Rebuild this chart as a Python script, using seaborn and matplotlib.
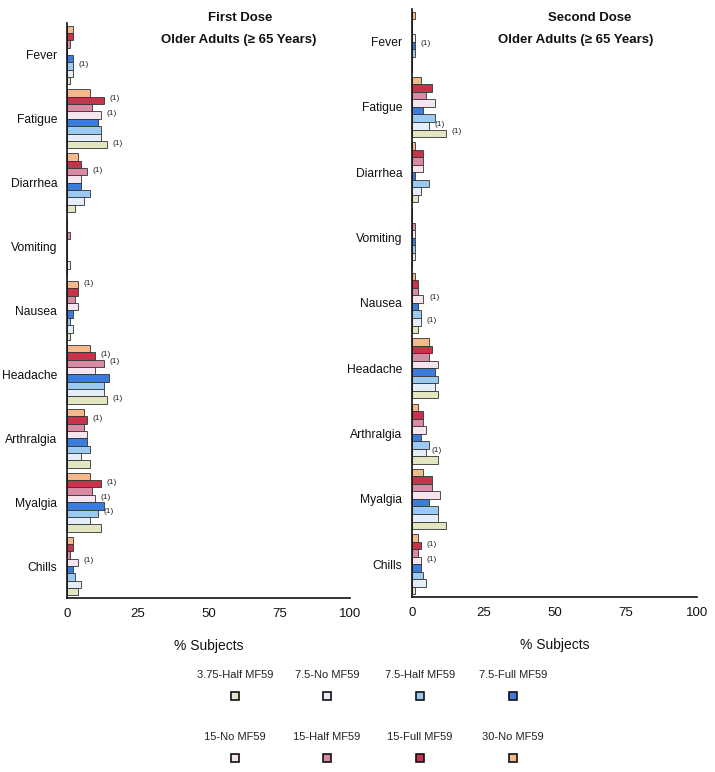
import matplotlib
matplotlib.use('Agg')
import matplotlib.pyplot as plt
from matplotlib.patches import Rectangle
import pandas as pd
import seaborn as sns

sns.set_theme(style='white')
plt.rcParams['font.family'] = ['Liberation Sans', 'DejaVu Sans']

# 数据
symptoms = ['Fever', 'Fatigue', 'Diarrhea', 'Vomiting', 'Nausea',
            'Headache', 'Arthralgia', 'Myalgia', 'Chills']
groups = ['30-No MF59', '15-Full MF59', '15-Half MF59', '15-No MF59',
          '7.5-Full MF59', '7.5-Half MF59', '7.5-No MF59', '3.75-Half MF59']
colors = ['#f6b98c', '#c8324a', '#d98aa6', '#f6e4ef',
          '#3b7bd9', '#9cc9ef', '#e4eef8', '#e3e6c0']

# 第一剂 (% subjects)
d1_30_no = [2, 8, 4, 0, 4, 8, 6, 8, 2]
d1_15_full = [2, 13, 5, 0, 4, 10, 7, 12, 2]
d1_15_half = [1, 9, 7, 1, 3, 13, 6, 9, 1]
d1_15_no = [0, 12, 5, 0, 4, 10, 7, 10, 4]
d1_75_full = [2, 11, 5, 0, 2, 15, 7, 13, 2]
d1_75_half = [2, 12, 8, 0, 1, 13, 8, 11, 3]
d1_75_no = [2, 12, 6, 1, 2, 13, 5, 8, 5]
d1_375_half = [1, 14, 3, 0, 1, 14, 8, 12, 4]

# 第二剂 (% subjects)
d2_30_no = [1, 3, 1, 0, 1, 6, 2, 4, 2]
d2_15_full = [0, 7, 4, 0, 2, 7, 4, 7, 3]
d2_15_half = [0, 5, 4, 1, 2, 6, 4, 7, 2]
d2_15_no = [1, 8, 4, 1, 4, 9, 5, 10, 3]
d2_75_full = [1, 4, 1, 1, 2, 8, 3, 6, 3]
d2_75_half = [1, 8, 6, 1, 3, 9, 6, 9, 4]
d2_75_no = [0, 6, 3, 1, 3, 8, 5, 9, 5]
d2_375_half = [0, 12, 2, 0, 2, 9, 9, 12, 1]

# 带 (1) 标注的柱
d1_notes = [('Fever', '7.5-Half MF59'), ('Fatigue', '15-Full MF59'),
            ('Fatigue', '15-No MF59'), ('Fatigue', '3.75-Half MF59'),
            ('Diarrhea', '15-Half MF59'), ('Nausea', '30-No MF59'),
            ('Headache', '15-Full MF59'), ('Headache', '15-Half MF59'),
            ('Headache', '3.75-Half MF59'), ('Arthralgia', '15-Full MF59'),
            ('Myalgia', '15-Full MF59'), ('Myalgia', '15-No MF59'),
            ('Myalgia', '7.5-Half MF59'), ('Chills', '15-No MF59')]
d2_notes = [('Fever', '7.5-Full MF59'), ('Fatigue', '7.5-No MF59'),
            ('Fatigue', '3.75-Half MF59'), ('Nausea', '15-No MF59'),
            ('Nausea', '7.5-No MF59'), ('Arthralgia', '7.5-No MF59'),
            ('Chills', '15-Full MF59'), ('Chills', '15-No MF59')]

d1_series = [d1_30_no, d1_15_full, d1_15_half, d1_15_no,
             d1_75_full, d1_75_half, d1_75_no, d1_375_half]
d2_series = [d2_30_no, d2_15_full, d2_15_half, d2_15_no,
             d2_75_full, d2_75_half, d2_75_no, d2_375_half]

W, H = 715.0, 772.0


def to_long(series):
    rows = []
    for g, vals in zip(groups, series):
        for s, v in zip(symptoms, vals):
            rows.append({'symptom': s, 'group': g, 'pct': v})
    return pd.DataFrame(rows)


def draw_panel(ax, df, notes):
    sns.barplot(data=df, y='symptom', x='pct', hue='group', order=symptoms,
                hue_order=groups, palette=colors, saturation=1, orient='h',
                width=0.92, edgecolor='#333333', linewidth=0.6, legend=False, ax=ax)
    # (1) 标注
    for s, g in notes:
        bar = ax.containers[groups.index(g)][symptoms.index(s)]
        ax.text(bar.get_width() + 2, bar.get_y() + bar.get_height() * 0.3,
                '(1)', fontsize=6, va='center', ha='left', color='#222222')
    ax.set_xlim(0, 100)
    ax.set_ylim(len(symptoms) - 0.5, -0.5)
    ax.set_xticks([0, 25, 50, 75, 100])
    ax.set_yticks([i - 0.5 for i in range(len(symptoms) + 1)])
    ax.set_yticklabels([])
    ax.set_yticks(range(len(symptoms)), minor=True)
    ax.set_yticklabels(symptoms, minor=True, fontsize=8.7, color='#111111')
    ax.tick_params(axis='y', which='minor', length=0, pad=7)
    ax.tick_params(axis='y', which='major', length=4, width=1.2, color='#111111', direction='out')
    ax.tick_params(axis='x', length=4, width=1.2, color='#111111', labelsize=9.5,
                   labelcolor='#111111', direction='out', pad=3)
    ax.set_xlabel('% Subjects', fontsize=10, labelpad=14, color='#111111')
    ax.set_ylabel('')
    sns.despine(ax=ax)
    for sp in ['left', 'bottom']:
        ax.spines[sp].set_color('#111111')
        ax.spines[sp].set_linewidth(1.2)


fig = plt.figure(figsize=(7.15, 7.72), dpi=100)
ax1 = fig.add_axes([0.0937, 0.2254, 0.3958, 0.7448])
ax2 = fig.add_axes([0.5762, 0.2267, 0.3986, 0.7617])

draw_panel(ax1, to_long(d1_series), d1_notes)
draw_panel(ax2, to_long(d2_series), d2_notes)

# 标题
for txt, x, y in [('First Dose', 240, 18), ('Older Adults (\u2265 65 Years)', 239, 40),
                  ('Second Dose', 590, 18), ('Older Adults (\u2265 65 Years)', 576, 40)]:
    fig.text(x / W, 1 - y / H, txt, ha='center', va='center', fontsize=9.5,
             fontweight='bold', color='#111111')

# 图例 (标签在上，色块在下)
legend_rows = [['3.75-Half MF59', '7.5-No MF59', '7.5-Half MF59', '7.5-Full MF59'],
               ['15-No MF59', '15-Half MF59', '15-Full MF59', '30-No MF59']]
col_x = [235, 327, 420, 513]
row_y = [(675, 696), (737, 758)]
sq = 8
for names, (ly, sy) in zip(legend_rows, row_y):
    for name, cx in zip(names, col_x):
        fig.text(cx / W, 1 - ly / H, name, ha='center', va='center',
                 fontsize=8, color='#222222')
        fig.patches.append(Rectangle(((cx - sq / 2) / W, 1 - (sy + sq / 2) / H),
                                     sq / W, sq / H, transform=fig.transFigure,
                                     facecolor=colors[groups.index(name)],
                                     edgecolor='#111111', linewidth=1.2))

fig.savefig('out.png', dpi=100)
